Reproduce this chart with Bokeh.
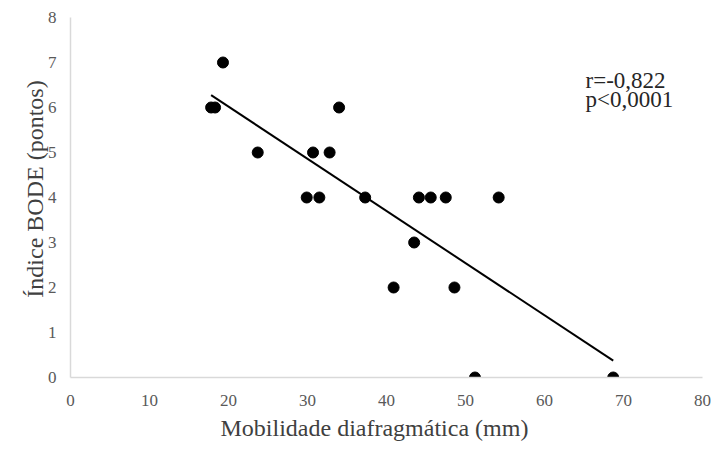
import numpy as np
from bokeh.plotting import figure
from bokeh.models import Label, Range1d, FixedTicker, Title
from bokeh.embed import file_html
from bokeh.resources import INLINE

# Data
mobilidade = [17.8, 18.3, 19.3, 23.7, 30.7, 32.8, 34.0, 29.9, 31.5, 37.3,
              44.1, 45.6, 47.5, 54.2, 43.5, 40.9, 48.6, 51.2, 68.7]
bode = [6, 6, 7, 5, 5, 5, 6, 4, 4, 4, 4, 4, 4, 4, 3, 2, 2, 0, 0]
x_ticks = [0, 10, 20, 30, 40, 50, 60, 70, 80]
y_ticks = [0, 1, 2, 3, 4, 5, 6, 7, 8]
x_title = "Mobilidade diafragmática (mm)"
y_title = "Índice BODE (pontos)"
stats_lines = ["r=-0,822", "p<0,0001"]

FONT = "Liberation Serif"
Y_MAX = 8
Y_HEADROOM = 17 / 45  # space above the top tick, in axis units

p = figure(width=715, height=450, output_backend="svg", toolbar_location=None,
           x_range=Range1d(0, 80), y_range=Range1d(0, Y_MAX + Y_HEADROOM),
           min_border_left=70, min_border_right=13, min_border_top=0, min_border_bottom=73)
p.outline_line_color = None
p.grid.grid_line_color = None

for ax in (p.xaxis[0], p.yaxis[0]):
    ax.axis_line_color = "#d9d9d9"
    ax.axis_line_width = 1.5
    ax.major_tick_line_color = None
    ax.minor_tick_line_color = None
    ax.major_label_text_font = FONT
    ax.major_label_text_font_size = "17px"
    ax.major_label_text_color = "#595959"
    ax.axis_label_text_font = FONT
    ax.axis_label_text_font_size = "24px"
    ax.axis_label_text_color = "#404040"
    ax.axis_label_text_font_style = "normal"

p.xaxis.ticker = FixedTicker(ticks=x_ticks)
p.yaxis.ticker = FixedTicker(ticks=y_ticks)
p.yaxis.bounds = (0, Y_MAX)
p.yaxis.major_label_text_align = "right"
p.yaxis.major_label_text_baseline = "middle"
p.xaxis.major_label_text_align = "center"
p.xaxis.major_label_text_baseline = "top"
p.xaxis.major_label_standoff = 11
p.yaxis.major_label_standoff = 8
p.yaxis.axis_label = y_title
p.yaxis.axis_label_standoff = -3

# x title below the axis, shifted like in the reference
p.add_layout(Title(text=x_title, align="left", offset=150, text_font=FONT,
                   text_font_size="24px", text_color="#404040", text_font_style="normal",
                   standoff=8), "below")

# regression line
slope, intercept = np.polyfit(mobilidade, bode, 1)
xs = [min(mobilidade), max(mobilidade)]
ys = [slope * v + intercept for v in xs]
p.line(xs, ys, line_color="black", line_width=2)

p.scatter(mobilidade, bode, size=11, color="black")

p.add_layout(Label(x=65.2, y=6.6, text=stats_lines[0], text_font=FONT, text_font_size="23px",
                   text_color="#262626", text_baseline="alphabetic"))
p.add_layout(Label(x=65.2, y=6.18, text=stats_lines[1], text_font=FONT, text_font_size="23px",
                   text_color="#262626", text_baseline="alphabetic"))

open("out.html", "w").write(file_html(p, INLINE))
